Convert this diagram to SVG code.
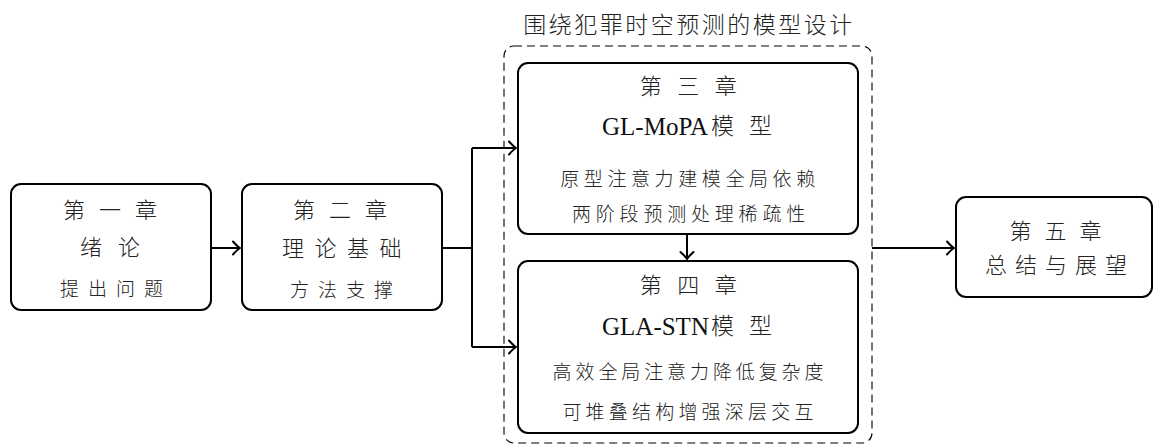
<svg xmlns="http://www.w3.org/2000/svg" width="1153" height="445" viewBox="0 0 1153 445">
<style>
.box{fill:#fff;stroke:#000;stroke-width:2}
.grp{fill:none;stroke:#000;stroke-width:1.1;stroke-dasharray:8 5}
.ln{fill:none;stroke:#000;stroke-width:2}
.cjk{font-family:"Noto Sans CJK SC","Noto Sans",sans-serif;font-weight:300;fill:#222;text-anchor:middle}
.h{font-size:22px}
.s{font-size:19px}
.lat{font-family:"Liberation Serif",serif;font-size:25px;fill:#111}
.m{font-family:"Noto Sans CJK SC",sans-serif;font-weight:300;font-size:23px;fill:#222}
</style>
<defs>
<marker id="arr" markerUnits="userSpaceOnUse" markerWidth="20" markerHeight="20" refX="0" refY="0" orient="auto" overflow="visible">
<path d="M-7,-6.5 Q-2.5,-1.5 0,0 Q-2.5,1.5 -7,6.5" fill="none" stroke="#000" stroke-width="2" stroke-linecap="round"/>
</marker>
</defs>
<rect class="grp" x="504" y="46" width="368" height="397" rx="10"/>
<text class="cjk" x="689" y="33" style="font-size:23px;letter-spacing:2.5px">围绕犯罪时空预测的模型设计</text>
<g id="connectors">
<path class="ln" d="M211,248 H240" marker-end="url(#arr)"/>
<path class="ln" d="M442,248 H472 M472,148 V347"/>
<path class="ln" d="M472,148 H516" marker-end="url(#arr)"/>
<path class="ln" d="M472,347 H516" marker-end="url(#arr)"/>
<path class="ln" d="M687,234 V259" marker-end="url(#arr)"/>
<path class="ln" d="M872,248 H954" marker-end="url(#arr)"/>
</g>
<g id="ch1">
<rect class="box" x="11" y="184" width="200" height="126" rx="10"/>
<text class="cjk h" x="117" y="218" style="letter-spacing:14px">第一章</text>
<text class="cjk h" x="118" y="255" style="letter-spacing:16px">绪论</text>
<text class="cjk s" x="116" y="296" style="letter-spacing:9px">提出问题</text>
</g>
<g id="ch2">
<rect class="box" x="242" y="184" width="200" height="126" rx="10"/>
<text class="cjk h" x="347" y="218" style="letter-spacing:14px">第二章</text>
<text class="cjk h" x="347" y="256" style="letter-spacing:10.5px">理论基础</text>
<text class="cjk s" x="346" y="297" style="letter-spacing:9px">方法支撑</text>
</g>
<g id="ch3">
<rect class="box" x="518" y="63" width="340" height="171" rx="10"/>
<text class="cjk h" x="696" y="94" style="letter-spacing:15.5px">第三章</text>
<text class="lat" x="602" y="135">GL-MoPA</text>
<text class="m" x="711" y="134">模</text>
<text class="m" x="749" y="134">型</text>
<text class="cjk s" x="690" y="186" style="letter-spacing:4.6px">原型注意力建模全局依赖</text>
<text class="cjk s" x="691" y="221" style="letter-spacing:4.8px">两阶段预测处理稀疏性</text>
</g>
<g id="ch4">
<rect class="box" x="518" y="261" width="340" height="172" rx="10"/>
<text class="cjk h" x="696" y="293" style="letter-spacing:15.5px">第四章</text>
<text class="lat" x="602" y="335">GLA-STN</text>
<text class="m" x="711" y="334">模</text>
<text class="m" x="749" y="334">型</text>
<text class="cjk s" x="690" y="379" style="letter-spacing:3.9px">高效全局注意力降低复杂度</text>
<text class="cjk s" x="690" y="419" style="letter-spacing:4.2px">可堆叠结构增强深层交互</text>
</g>
<g id="ch5">
<rect class="box" x="956" y="197" width="196" height="100" rx="10"/>
<text class="cjk h" x="1062" y="239" style="letter-spacing:13px">第五章</text>
<text class="cjk h" x="1060" y="273" style="letter-spacing:8px">总结与展望</text>
</g>
</svg>
